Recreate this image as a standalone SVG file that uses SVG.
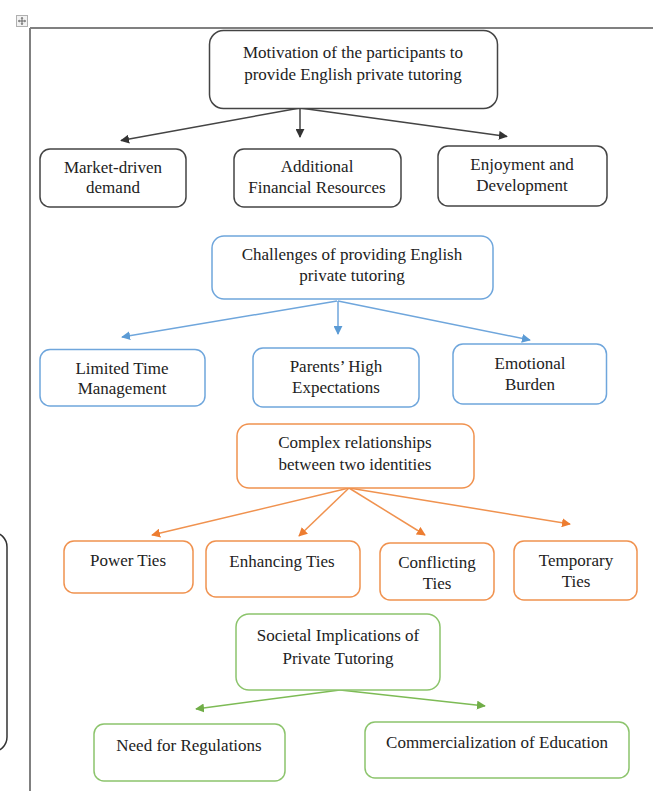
<svg xmlns="http://www.w3.org/2000/svg" width="653" height="791" viewBox="0 0 653 791">
<style>
text{font-family:"Liberation Serif","Times New Roman",serif;font-size:17px;fill:#222;text-anchor:middle}
.k{fill:#fff;stroke:#444;stroke-width:1.5}
.b{fill:#fff;stroke:#6fa6dc;stroke-width:1.5}
.o{fill:#fff;stroke:#f0924f;stroke-width:1.5}
.g{fill:#fff;stroke:#8cc46c;stroke-width:1.5}
.ck{stroke:#444;stroke-width:1.5;fill:none}
.cb{stroke:#6fa6dc;stroke-width:1.5;fill:none}
.co{stroke:#f0924f;stroke-width:1.5;fill:none}
.cg{stroke:#7dbb55;stroke-width:1.5;fill:none}
</style>
<defs>
<marker id="ak" viewBox="0 0 10 10" refX="9" refY="5" markerWidth="6" markerHeight="6" markerUnits="strokeWidth" orient="auto"><path d="M0 0L10 5L0 10z" fill="#333"/></marker>
<marker id="ab" viewBox="0 0 10 10" refX="9" refY="5" markerWidth="6" markerHeight="6" markerUnits="strokeWidth" orient="auto"><path d="M0 0L10 5L0 10z" fill="#5b9bd5"/></marker>
<marker id="ao" viewBox="0 0 10 10" refX="9" refY="5" markerWidth="6" markerHeight="6" markerUnits="strokeWidth" orient="auto"><path d="M0 0L10 5L0 10z" fill="#ed7d31"/></marker>
<marker id="ag" viewBox="0 0 10 10" refX="9" refY="5" markerWidth="6" markerHeight="6" markerUnits="strokeWidth" orient="auto"><path d="M0 0L10 5L0 10z" fill="#70ad47"/></marker>
</defs>
<rect width="653" height="791" fill="#fff"/>
<g id="frame">
<line x1="30" y1="28" x2="653" y2="28" stroke="#808080" stroke-width="2"/>
<line x1="30" y1="28" x2="30" y2="791" stroke="#808080" stroke-width="2"/>
<rect x="-100" y="532" width="107" height="220" rx="15" fill="none" stroke="#333" stroke-width="1.5"/>
<g id="handle">
<rect x="16.5" y="15.5" width="11" height="11" fill="#f2f2f2" stroke="#b0b0b0"/>
<path d="M22 17.5v7M18.5 21h7" stroke="#666" stroke-width="1"/>
<path d="M22 17l-1.5 1.5h3zM22 25l-1.5-1.5h3zM18 21l1.5-1.5v3zM26 21l-1.5-1.5v3z" fill="#666"/>
</g>
</g>
<g id="connectors">
<line class="ck" x1="300" y1="108" x2="121" y2="140.5" marker-end="url(#ak)"/>
<line class="ck" x1="300" y1="108" x2="300" y2="137" marker-end="url(#ak)"/>
<line class="ck" x1="300" y1="108" x2="507" y2="136.5" marker-end="url(#ak)"/>
<line class="cb" x1="337" y1="301" x2="122" y2="337" marker-end="url(#ab)"/>
<line class="cb" x1="338" y1="301" x2="338" y2="334" marker-end="url(#ab)"/>
<line class="cb" x1="338" y1="301" x2="530" y2="340" marker-end="url(#ab)"/>
<line class="co" x1="349" y1="488" x2="152" y2="535" marker-end="url(#ao)"/>
<line class="co" x1="349" y1="488" x2="299" y2="536" marker-end="url(#ao)"/>
<line class="co" x1="349" y1="488" x2="425" y2="535" marker-end="url(#ao)"/>
<line class="co" x1="349" y1="488" x2="570" y2="524" marker-end="url(#ao)"/>
<line class="cg" x1="340" y1="690" x2="196" y2="709" marker-end="url(#ag)"/>
<line class="cg" x1="340" y1="690" x2="485" y2="706" marker-end="url(#ag)"/>
</g>
<g id="n-motivation"><rect class="k" x="209.5" y="30.5" width="288" height="78" rx="14"/><text x="353" y="58">Motivation of the participants to</text><text x="353" y="80">provide English private tutoring</text></g>
<g id="n-market"><rect class="k" x="40" y="149" width="146" height="58" rx="10"/><text x="113" y="173">Market-driven</text><text x="113" y="193">demand</text></g>
<g id="n-financial"><rect class="k" x="234" y="149" width="167" height="58" rx="10"/><text x="317" y="172">Additional</text><text x="317" y="193">Financial Resources</text></g>
<g id="n-enjoyment"><rect class="k" x="438" y="146" width="169" height="60" rx="10"/><text x="522" y="170">Enjoyment and</text><text x="522" y="191">Development</text></g>
<g id="n-challenges"><rect class="b" x="212" y="236" width="281" height="63" rx="12"/><text x="352" y="260">Challenges of providing English</text><text x="352" y="281">private tutoring</text></g>
<g id="n-time"><rect class="b" x="40" y="349.5" width="165" height="56.5" rx="10"/><text x="122" y="374">Limited Time</text><text x="122" y="394">Management</text></g>
<g id="n-parents"><rect class="b" x="253" y="348" width="166" height="59" rx="10"/><text x="336" y="372">Parents’ High</text><text x="336" y="393">Expectations</text></g>
<g id="n-emotional"><rect class="b" x="453" y="344" width="153.5" height="60" rx="10"/><text x="530" y="369">Emotional</text><text x="530" y="390">Burden</text></g>
<g id="n-complex"><rect class="o" x="237" y="424" width="237" height="64" rx="12"/><text x="355" y="448">Complex relationships</text><text x="355" y="470">between two identities</text></g>
<g id="n-power"><rect class="o" x="64" y="541" width="129" height="52" rx="10"/><text x="128" y="566">Power Ties</text></g>
<g id="n-enhancing"><rect class="o" x="206" y="541" width="154" height="56" rx="10"/><text x="282" y="567">Enhancing Ties</text></g>
<g id="n-conflicting"><rect class="o" x="380" y="543" width="114" height="57" rx="10"/><text x="437" y="568">Conflicting</text><text x="437" y="589">Ties</text></g>
<g id="n-temporary"><rect class="o" x="514" y="541" width="123" height="59" rx="10"/><text x="576" y="566">Temporary</text><text x="576" y="587">Ties</text></g>
<g id="n-societal"><rect class="g" x="236" y="614" width="204" height="76" rx="13"/><text x="338" y="641">Societal Implications of</text><text x="338" y="664">Private Tutoring</text></g>
<g id="n-regulations"><rect class="g" x="94" y="724" width="191" height="57" rx="10"/><text x="189" y="751">Need for Regulations</text></g>
<g id="n-commercial"><rect class="g" x="365" y="722" width="264" height="56" rx="10"/><text x="497" y="748">Commercialization of Education</text></g>
</svg>
